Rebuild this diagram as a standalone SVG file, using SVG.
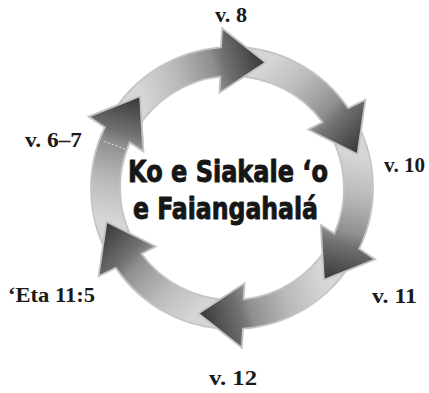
<svg xmlns="http://www.w3.org/2000/svg" xmlns:xlink="http://www.w3.org/1999/xlink" width="429" height="393" viewBox="0 0 429 393">
<style>
.arrow{fill:url(#g);stroke:#c4c4c4;stroke-width:1.8;stroke-linejoin:miter}
.lbl{font-family:"Liberation Serif","Times New Roman",serif;font-weight:bold;font-size:20.5px;fill:#1a1a1a}
.title{font-family:"Liberation Sans Narrow","DejaVu Sans Condensed","Liberation Sans",sans-serif;font-weight:bold;font-size:31px;fill:#161616;stroke:#161616;stroke-width:0.9;stroke-linejoin:round}
.seam{stroke:#e2e2e2;stroke-width:1;stroke-dasharray:2 2;fill:none}
</style>
<defs>
<linearGradient id="g" gradientUnits="userSpaceOnUse" x1="-109.1" y1="-63" x2="0" y2="-130">
<stop offset="0" stop-color="#d6d6d6"/>
<stop offset="0.3" stop-color="#bababa"/>
<stop offset="0.6" stop-color="#8f8f8f"/>
<stop offset="0.68" stop-color="#747474"/>
<stop offset="1" stop-color="#363636"/>
</linearGradient>
<path id="arr" d="M-135.54,-38.86 A141,141 0 0 1 -47.07,-132.91 L-50.77,-151.73 L0,-130 L-36.74,-88.69 L-40.14,-104.56 A112,112 0 0 0 -107.67,-30.87 Z"/>
<clipPath id="hc"><rect x="-62" y="-172" width="72" height="100"/></clipPath>
</defs>
<rect width="429" height="393" fill="#ffffff"/>
<g id="connectors" transform="translate(232,188)">
<use xlink:href="#arr" class="arrow" transform="rotate(315)"/>
<use xlink:href="#arr" class="arrow" transform="rotate(255)"/>
<use xlink:href="#arr" class="arrow" transform="rotate(195)"/>
<use xlink:href="#arr" class="arrow" transform="rotate(135)"/>
<use xlink:href="#arr" class="arrow" transform="rotate(75)"/>
<use xlink:href="#arr" class="arrow" transform="rotate(15)"/>
<g transform="rotate(315)"><use xlink:href="#arr" class="arrow" clip-path="url(#hc)"/></g>
<line class="seam" x1="-107.1" y1="-39" x2="-128.7" y2="-46.9"/>
</g>
<g id="title">
<text class="title" x="128" y="182" textLength="200" lengthAdjust="spacingAndGlyphs">Ko e Siakale ‘o</text>
<text class="title" x="133" y="218.5" textLength="185" lengthAdjust="spacingAndGlyphs">e Faiangahalá</text>
</g>
<g id="label-v8"><text class="lbl" x="215" y="22" textLength="32" lengthAdjust="spacingAndGlyphs">v. 8</text></g>
<g id="label-v10"><text class="lbl" x="384" y="172" textLength="41" lengthAdjust="spacingAndGlyphs">v. 10</text></g>
<g id="label-v11"><text class="lbl" x="372" y="303" textLength="45" lengthAdjust="spacingAndGlyphs">v. 11</text></g>
<g id="label-v12"><text class="lbl" x="209" y="385" textLength="48" lengthAdjust="spacingAndGlyphs">v. 12</text></g>
<g id="label-eta"><text class="lbl" x="8" y="302" textLength="87" lengthAdjust="spacingAndGlyphs">‘Eta 11:5</text></g>
<g id="label-v6-7"><text class="lbl" x="25" y="147" textLength="57" lengthAdjust="spacingAndGlyphs">v. 6–7</text></g>
</svg>
